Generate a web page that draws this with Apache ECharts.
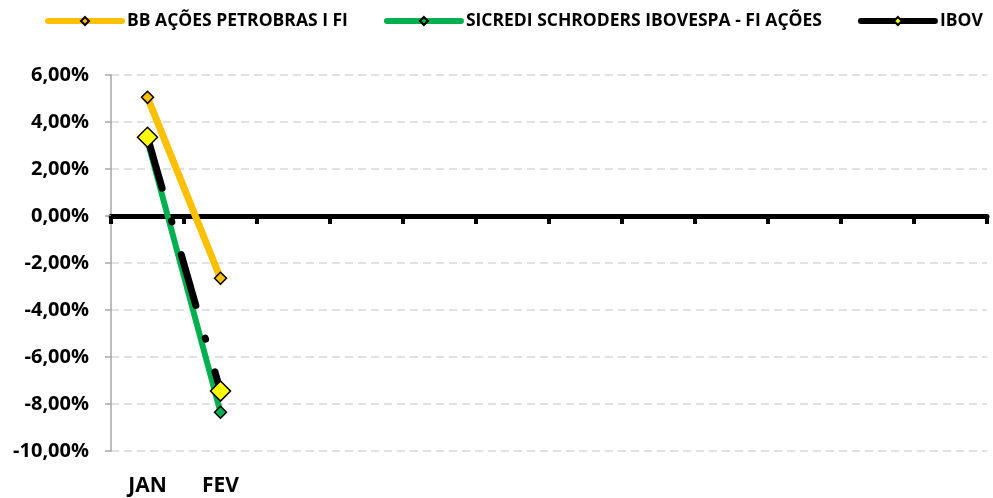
<!DOCTYPE html>
<html lang="pt-BR">
<head>
    <meta charset="UTF-8">
    <title>Rentabilidade</title>
    <script src="https://cdn.jsdelivr.net/npm/echarts@6/dist/echarts.min.js"></script>
    <style>
        html, body {
            margin: 0;
            height: 100%;
            width: 100%;
            overflow: hidden;
            background: #fff;
        }
        #chart {
            width: 993px;
            height: 498px;
        }
    </style>
</head>
<body>
<div id="chart"></div>
<script>
    // dados (em %)
    var meses = ['JAN', 'FEV', 'MAR', 'ABR', 'MAI', 'JUN', 'JUL', 'AGO', 'SET', 'OUT', 'NOV', 'DEZ'];
    var bbPetrobras = [5.05, -2.65];
    var sicredi = [3.2, -8.35];
    var ibov = [3.35, -7.45];
    var yMin = -10, yMax = 6, yStep = 2;

    var fonte = '"Open Sans", "Noto Sans", sans-serif';

    function pct(v) {
        return v.toFixed(2).replace('.', ',') + '%';
    }

    var chart = echarts.init(document.getElementById('chart'));

    chart.setOption({
        animation: false,
        legend: {
            left: 40,
            top: 7,
            itemWidth: 74,
            itemHeight: 10,
            itemGap: 36,
            textStyle: {fontFamily: fonte, fontWeight: 'bold', fontSize: 17.5, color: '#000'},
            data: [
                {name: 'BB AÇÕES PETROBRAS I FI', lineStyle: {width: 6, cap: 'round'}},
                {name: 'SICREDI SCHRODERS IBOVESPA - FI AÇÕES', lineStyle: {width: 6, cap: 'round'}},
                {name: 'IBOV', lineStyle: {type: 'solid', width: 6, cap: 'round'}}
            ]
        },
        grid: {left: 111, right: 6, top: 75, bottom: 47, containLabel: false},
        xAxis: [{
            type: 'category',
            data: meses,
            boundaryGap: true,
            axisLine: {onZero: true, lineStyle: {color: '#000', width: 5}},
            axisTick: {show: true, length: 8, lineStyle: {color: '#000', width: 4}},
            axisLabel: {show: false},
            splitLine: {show: false}
        }, {
            type: 'category',
            data: meses,
            position: 'bottom',
            boundaryGap: true,
            axisLine: {show: false},
            axisTick: {show: false},
            axisLabel: {
                margin: 25,
                fontFamily: fonte, fontWeight: 'bold', fontSize: 21, color: '#000',
                formatter: function (v, i) {
                    return i < bbPetrobras.length ? v : '';
                }
            }
        }],
        yAxis: {
            type: 'value',
            min: yMin,
            max: yMax,
            interval: yStep,
            axisLine: {show: true, lineStyle: {color: '#a6a6a6', width: 1.5}},
            axisTick: {show: true, inside: false, length: 6, lineStyle: {color: '#a6a6a6', width: 1.5}},
            axisLabel: {
                margin: 22,
                fontFamily: fonte, fontWeight: 'bold', fontSize: 20, color: '#000',
                formatter: pct
            },
            splitLine: {show: true, lineStyle: {color: '#d9d9d9', width: 1.5, type: [8, 5]}}
        },
        series: [{
            name: 'BB AÇÕES PETROBRAS I FI',
            type: 'line',
            data: bbPetrobras,
            symbol: 'diamond',
            symbolSize: 12,
            lineStyle: {color: '#ffc000', width: 7},
            itemStyle: {color: '#ffc000', borderColor: '#000', borderWidth: 1.5}
        }, {
            name: 'SICREDI SCHRODERS IBOVESPA - FI AÇÕES',
            type: 'line',
            data: sicredi,
            symbol: 'diamond',
            symbolSize: 12,
            lineStyle: {color: '#00b050', width: 6},
            itemStyle: {color: '#00b050', borderColor: '#000', borderWidth: 1.5}
        }, {
            name: 'IBOV',
            type: 'line',
            data: ibov,
            symbol: 'diamond',
            symbolSize: 20,
            lineStyle: {color: '#000', width: 7, type: [53, 34, 1, 34], cap: 'round'},
            itemStyle: {color: '#ffff00', borderColor: '#000', borderWidth: 1.5}
        }]
    });
</script>
</body>
</html>
